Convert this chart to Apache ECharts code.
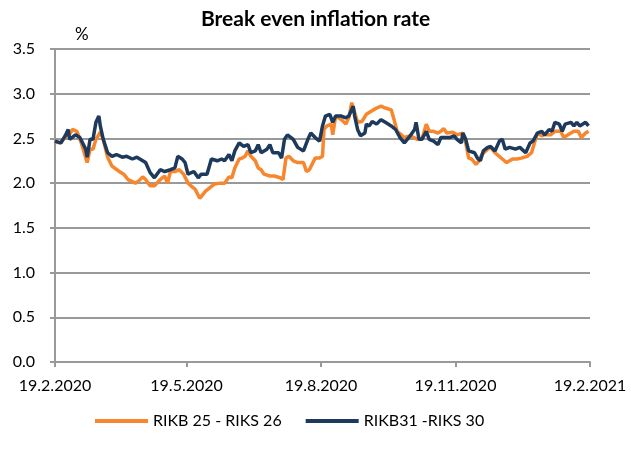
<!DOCTYPE html>
<html>
<head>
<meta charset="utf-8">
<script src="https://cdn.jsdelivr.net/npm/echarts@6/dist/echarts.min.js"></script>
<style>html,body{margin:0;padding:0;background:#fff}#c{width:631px;height:457px}</style>
</head>
<body>
<div id="c"></div>
<script>
// Days counted from 19.2.2020
const tickDays = [0, 90, 182, 274, 366];
const tickLabels = ['19.2.2020', '19.5.2020', '19.8.2020', '19.11.2020', '19.2.2021'];

const orangeName = 'RIKB 25 - RIKS 26';
const orangeDays = [0,4,7,10,12,15,18,22,24,26,28,31,33,36,39,44,47,50,55,57,60,62,65,68,72,75,77,79,82,85,88,91,93,96,99,103,106,109,113,116,119,121,123,126,128,130,132,134,137,139,141,143,147,150,154,156,158,160,163,166,170,172,174,178,181,183,184,186,189,190,192,196,199,201,203,205,207,210,213,216,220,223,226,230,232,234,237,239,243,248,251,254,256,259,262,264,266,268,272,275,279,281,283,285,288,290,292,296,298,301,306,309,313,316,319,323,326,330,333,335,339,342,346,348,351,355,358,360,363,365];
const orangeValues = [2.46,2.45,2.52,2.55,2.60,2.58,2.45,2.23,2.38,2.38,2.49,2.57,2.49,2.29,2.19,2.13,2.10,2.04,2.00,2.02,2.07,2.04,1.97,1.97,2.04,2.08,2.00,2.13,2.13,2.15,2.10,2.00,1.97,1.93,1.83,1.91,1.95,1.99,2.00,2.00,2.07,2.06,2.17,2.27,2.28,2.30,2.36,2.30,2.25,2.17,2.15,2.10,2.08,2.08,2.06,2.04,2.28,2.30,2.25,2.23,2.23,2.13,2.15,2.28,2.28,2.30,2.60,2.64,2.66,2.54,2.75,2.71,2.66,2.73,2.90,2.79,2.68,2.69,2.77,2.80,2.84,2.86,2.84,2.82,2.71,2.58,2.54,2.51,2.53,2.49,2.49,2.66,2.58,2.58,2.56,2.58,2.61,2.56,2.57,2.54,2.56,2.45,2.28,2.27,2.21,2.25,2.32,2.38,2.40,2.34,2.27,2.23,2.27,2.27,2.28,2.30,2.34,2.56,2.53,2.54,2.54,2.58,2.58,2.51,2.54,2.58,2.58,2.51,2.56,2.58];

const navyName = 'RIKB31 -RIKS 30';
const navyDays = [0,4,7,9,10,14,17,21,22,24,26,28,30,31,33,36,39,42,46,49,53,56,60,62,65,68,72,75,79,82,84,87,89,91,95,98,100,104,107,111,114,116,119,121,123,126,129,132,134,137,139,141,145,147,149,153,155,157,159,163,166,170,173,175,178,181,183,185,188,190,192,196,199,201,204,205,207,209,212,213,215,217,220,223,226,230,233,236,239,241,243,246,247,249,251,254,256,259,262,264,266,270,273,275,278,279,281,283,284,287,289,291,293,296,298,301,304,306,308,311,315,318,322,325,327,330,333,335,338,340,342,345,347,349,353,355,357,359,363,365];
const navyValues = [2.47,2.45,2.53,2.60,2.49,2.54,2.51,2.38,2.29,2.49,2.49,2.68,2.75,2.64,2.49,2.34,2.30,2.32,2.29,2.30,2.27,2.29,2.25,2.23,2.12,2.06,2.15,2.13,2.15,2.17,2.30,2.27,2.23,2.10,2.13,2.06,2.10,2.10,2.27,2.25,2.27,2.25,2.32,2.25,2.36,2.45,2.41,2.43,2.34,2.36,2.43,2.34,2.38,2.43,2.34,2.34,2.28,2.49,2.54,2.49,2.40,2.36,2.49,2.56,2.51,2.47,2.64,2.75,2.77,2.68,2.75,2.75,2.73,2.75,2.86,2.75,2.60,2.53,2.56,2.66,2.64,2.69,2.66,2.71,2.68,2.64,2.60,2.51,2.45,2.49,2.53,2.60,2.68,2.49,2.49,2.58,2.49,2.47,2.43,2.51,2.51,2.51,2.53,2.49,2.45,2.56,2.49,2.36,2.38,2.34,2.28,2.25,2.36,2.40,2.41,2.36,2.47,2.49,2.38,2.40,2.38,2.40,2.34,2.45,2.47,2.56,2.58,2.54,2.60,2.58,2.68,2.66,2.58,2.66,2.68,2.64,2.68,2.64,2.68,2.64];

const yMin = 0, yMax = 3.5, yStep = 0.5;
const titleText = 'Break even inflation rate';
const unitText = '%';

const pairs = (d, v) => d.map((x, i) => [x, v[i]]);
const FONT = 'Lato, "Open Sans", sans-serif';

const chart = echarts.init(document.getElementById('c'), null, {renderer: 'canvas'});
chart.setOption({
  animation: false,
  backgroundColor: '#fff',
  title: {
    text: titleText, left: 'center', top: 4,
    textStyle: {fontFamily: FONT, fontSize: 21, fontWeight: 'bold', color: '#000'}
  },
  graphic: [{
    type: 'text', left: 75, top: 26,
    style: {text: unitText, font: '17px ' + FONT, fill: '#000'}
  }],
  grid: {left: 55, right: 41, top: 49, bottom: 95, containLabel: false},
  legend: {
    bottom: 28, left: 95, padding: 0, itemGap: 24, itemWidth: 53, itemHeight: 4, icon: 'rect',
    textStyle: {fontFamily: FONT, fontSize: 16, color: '#000'},
    data: [orangeName, navyName]
  },
  xAxis: {
    type: 'value', min: tickDays[0], max: tickDays[tickDays.length - 1],
    splitLine: {show: false},
    axisLine: {lineStyle: {color: '#999', width: 2}},
    axisTick: {customValues: tickDays, length: 5, lineStyle: {color: '#999', width: 2}},
    axisLabel: {
      customValues: tickDays, margin: 16,
      fontFamily: FONT, fontSize: 16, color: '#000',
      formatter: v => tickLabels[tickDays.indexOf(v)]
    }
  },
  yAxis: {
    type: 'value', min: yMin, max: yMax, interval: yStep,
    axisLine: {show: true, lineStyle: {color: '#999', width: 2}},
    axisTick: {show: true, length: 5, lineStyle: {color: '#999', width: 2}},
    splitLine: {lineStyle: {color: '#999', width: 2}},
    axisLabel: {fontFamily: FONT, fontSize: 16, color: '#000', margin: 20,
      formatter: v => v.toFixed(1)}
  },
  series: [
    {name: orangeName, type: 'line', data: pairs(orangeDays, orangeValues),
      showSymbol: false, color: '#f7862c', lineStyle: {width: 3.5, color: '#f7862c'}},
    {name: navyName, type: 'line', data: pairs(navyDays, navyValues),
      showSymbol: false, color: '#1d3a5c', lineStyle: {width: 3.5, color: '#1d3a5c'}}
  ]
});
</script>
</body>
</html>
